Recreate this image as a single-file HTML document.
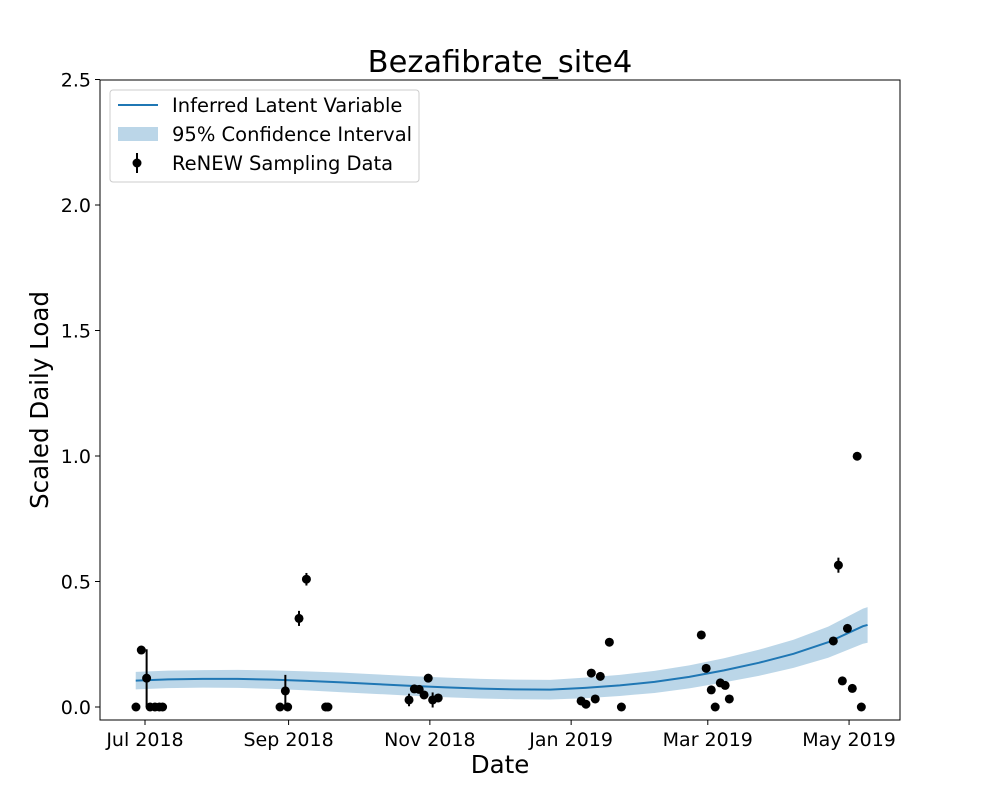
<!DOCTYPE html>
<html><head><meta charset="utf-8">
<style>
body{margin:0;background:#fff;font-family:"Liberation Sans","DejaVu Sans",sans-serif;}
svg text{font-family:"DejaVu Sans","Liberation Sans",sans-serif;}
</style></head>
<body>
<svg id="chart" width="1000" height="800" xmlns="http://www.w3.org/2000/svg">
<rect width="1000" height="800" fill="#fff"/>
<text x="500" y="72" text-anchor="middle" font-size="30.5">Bezafibrate_site4</text>
<text x="500" y="773" text-anchor="middle" font-size="24.5">Date</text>
<text transform="translate(48,400) rotate(-90)" text-anchor="middle" font-size="24.5">Scaled Daily Load</text>
<g id="plot"></g>
<rect x="100" y="80" width="800" height="640" fill="none" stroke="#000" stroke-width="1"/>
<g id="axes"></g>
<g>
<rect x="110" y="90" width="309" height="92" rx="3" fill="#fff" fill-opacity="0.8" stroke="#ccc"/>
<line x1="118" y1="105" x2="158" y2="105" stroke="#1f77b4" stroke-width="2"/>
<text x="172" y="112" font-size="19.5">Inferred Latent Variable</text>
<rect x="118" y="127" width="40" height="14" fill="#1f77b4" fill-opacity="0.3"/>
<text x="172" y="141" font-size="19.5">95% Confidence Interval</text>
<line x1="137" y1="153" x2="137" y2="173" stroke="#000" stroke-width="2"/>
<circle cx="137" cy="163" r="4.5" fill="#000"/>
<text x="172" y="170" font-size="19.5">ReNEW Sampling Data</text>
</g>
</svg>
<script>
// days since 2018-07-01
const curveDays=[-4,10,25,40,55,70,85,100,115,130,145,160,175,190,205,220,235,250,265,280,295,310,312];
const curveMean=[0.105,0.110,0.112,0.112,0.109,0.104,0.098,0.091,0.084,0.078,0.073,0.070,0.069,0.076,0.086,0.100,0.120,0.146,0.176,0.212,0.258,0.322,0.327];
const curveLower=[0.070,0.075,0.077,0.076,0.072,0.066,0.059,0.052,0.045,0.039,0.034,0.031,0.030,0.035,0.044,0.056,0.074,0.098,0.124,0.156,0.196,0.252,0.256];
const curveUpper=[0.140,0.145,0.147,0.148,0.146,0.142,0.137,0.130,0.123,0.117,0.112,0.109,0.108,0.117,0.128,0.144,0.166,0.194,0.228,0.268,0.320,0.392,0.398];
const ptDays=[-3.9,-1.6,0.7,2.2,4.3,6.2,7.6,58.3,60.6,61.6,66.5,69.7,78,79,114,116.3,118.4,120.5,122.3,124.2,126.6,188.3,190.4,192.7,194.4,196.6,200.5,205.7,240.2,242.3,244.5,246.2,248.4,250.5,252.3,297.2,299.4,301.1,303.3,305.4,307.5,309.3];
const ptVals=[0,0.227,0.115,0,0,0,0,0,0.064,0,0.353,0.509,0,0,0.028,0.072,0.07,0.048,0.115,0.028,0.036,0.024,0.011,0.135,0.032,0.122,0.258,0,0.287,0.154,0.068,0,0.096,0.086,0.032,0.263,0.565,0.104,0.313,0.074,0.999,0];
const ptErrLo=[0,0,0.115,0,0,0,0,0,0.064,0,0.03,0.025,0,0,0.025,0,0,0,0,0.03,0,0,0,0,0,0,0,0,0,0,0,0,0,0,0,0,0.03,0,0,0,0,0];
const ptErrHi=[0,0,0.115,0,0,0,0,0,0.064,0,0.03,0.025,0,0,0.025,0,0,0,0,0.03,0,0,0,0,0,0,0,0,0,0,0,0,0,0,0,0,0.03,0,0,0,0,0];
const xTickDays=[0,62,123,184,243,304];
const xTickLabels=["Jul 2018","Sep 2018","Nov 2018","Jan 2019","Mar 2019","May 2019"];
const yTicks=[0,0.5,1.0,1.5,2.0,2.5];
const yTickLabels=["0.0","0.5","1.0","1.5","2.0","2.5"];

const X=d=>145+d*2.316;
const Y=v=>707-v*251;
const NS="http://www.w3.org/2000/svg";
const plot=document.getElementById('plot'), axes=document.getElementById('axes');
function mk(tag,attrs,parent){const e=document.createElementNS(NS,tag);for(const k in attrs)e.setAttribute(k,attrs[k]);parent.appendChild(e);return e;}

let band="M"+curveDays.map((d,i)=>X(d)+","+Y(curveUpper[i])).join("L");
for(let i=curveDays.length-1;i>=0;i--) band+="L"+X(curveDays[i])+","+Y(curveLower[i]);
const b=mk('path',{d:band+"Z",fill:"#1f77b4","fill-opacity":0.3},plot);


const ln=mk('path',{d:"M"+curveDays.map((d,i)=>X(d)+","+Y(curveMean[i])).join("L"),fill:"none",stroke:"#1f77b4","stroke-width":2},plot);



ptDays.forEach((d,i)=>{
  if(ptErrLo[i]||ptErrHi[i]){
    const e=mk('line',{x1:X(d),x2:X(d),y1:Y(ptVals[i]-ptErrLo[i]),y2:Y(ptVals[i]+ptErrHi[i]),stroke:"#000","stroke-width":2},plot);
    
    
  }
  const c=mk('circle',{cx:X(d),cy:Y(ptVals[i]),r:4.5,fill:"#000"},plot);
  
  
});

xTickDays.forEach((d,i)=>{
  mk('line',{x1:X(d),x2:X(d),y1:720,y2:725,stroke:"#000"},axes);
  const t=mk('text',{x:X(d),y:746,"text-anchor":"middle","font-size":"19"},axes);
  t.textContent=xTickLabels[i];
  
  
});
yTicks.forEach((v,i)=>{
  mk('line',{x1:95,x2:100,y1:Y(v),y2:Y(v),stroke:"#000"},axes);
  const t=mk('text',{x:91,y:Y(v)+7,"text-anchor":"end","font-size":"19"},axes);
  t.textContent=yTickLabels[i];
  
  
});
</script>
</body></html>
